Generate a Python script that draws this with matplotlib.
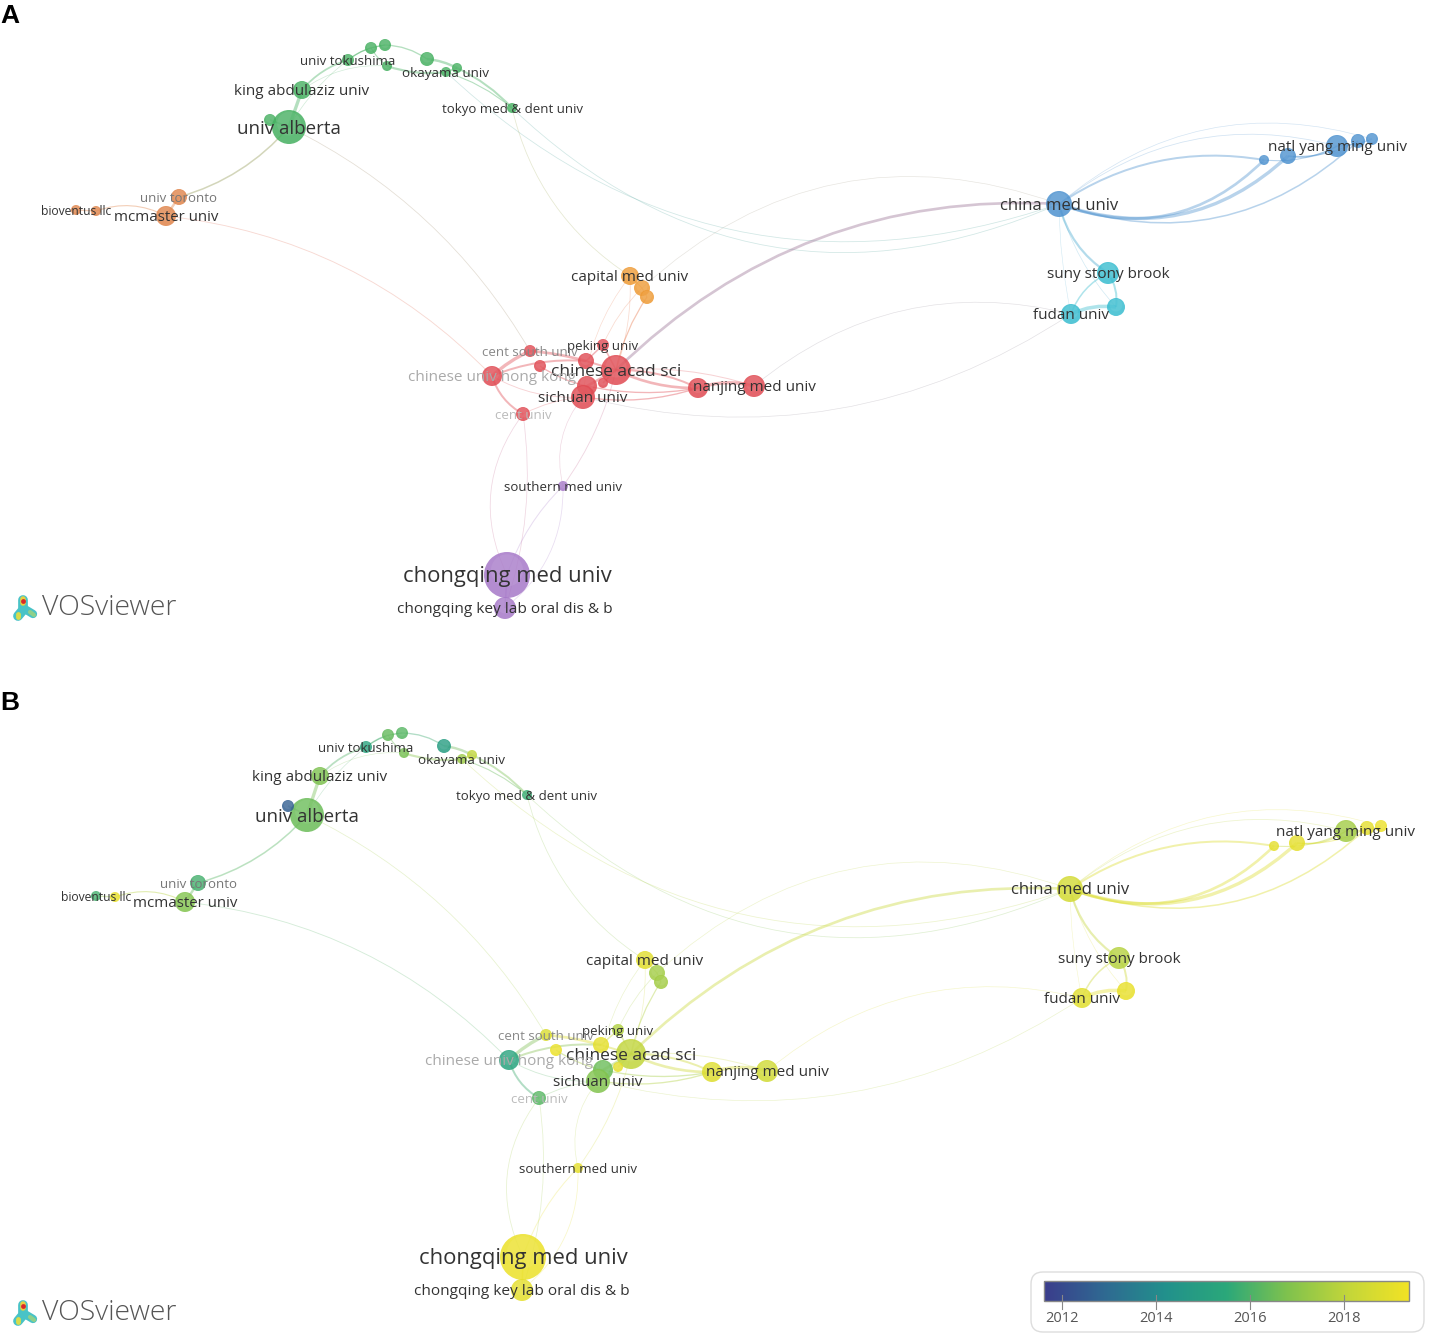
import matplotlib
matplotlib.use("Agg")
import matplotlib.pyplot as plt
import numpy as np
from matplotlib.colors import to_rgb, LinearSegmentedColormap
from matplotlib.patches import Circle, PathPatch, FancyBboxPatch
from matplotlib.path import Path

plt.rcParams['font.family'] = ['Open Sans', 'DejaVu Sans']

# nodes (pixels)
names = ["univ alberta", "king abdulaziz univ", "", "univ tokushima", "", "", "", "", "okayama univ",
         "tokyo med & dent univ", "univ toronto", "mcmaster univ", "bioventus llc", "", "china med univ",
         "natl yang ming univ", "", "", "", "", "suny stony brook", "", "fudan univ", "capital med univ",
         "", "", "peking univ", "cent south univ", "", "chinese acad sci", "", "chinese univ hong kong",
         "", "", "sichuan univ", "", "nanjing med univ", "cent univ", "southern med univ",
         "chongqing med univ", "chongqing key lab oral dis & b", ""]
x_a = [289, 302, 270, 348, 371, 385, 387, 427, 446, 512, 179, 166, 76, 96, 1059, 1337, 1264, 1288, 1358, 1372,
       1108, 1116, 1071, 630, 642, 647, 603, 530, 540, 616, 586, 492, 587, 603, 583, 698, 754, 523, 563, 507, 505, 457]
y_a = [127, 90, 120, 60, 48, 45, 66, 59, 72, 108, 197, 216, 210, 211, 204, 146, 160, 156, 141, 139,
       273, 307, 314, 276, 288, 297, 345, 351, 366, 370, 361, 376, 386, 383, 397, 388, 386, 414, 486, 575, 608, 68]
x_b = [307, 320, 288, 366, 388, 402, 404, 444, 462, 527, 198, 185, 96, 115, 1070, 1346, 1274, 1297, 1367, 1381,
       1119, 1126, 1082, 645, 657, 661, 618, 546, 556, 631, 601, 509, 603, 618, 598, 712, 767, 539, 578, 523, 522, 472]
y_b = [815, 776, 806, 747, 735, 733, 753, 746, 759, 795, 883, 902, 896, 897, 889, 831, 846, 843, 828, 826,
       958, 991, 998, 960, 973, 982, 1030, 1035, 1050, 1054, 1045, 1060, 1070, 1067, 1081, 1072, 1071, 1098, 1168, 1257, 1290, 755]
radius = [17, 9, 6, 6, 6, 6, 5, 7, 5, 5, 8, 10, 5, 5, 13, 11, 5, 8, 7, 6,
          11, 9, 10, 9, 8, 7, 6, 6, 6, 15, 8, 10, 10, 5, 12, 10, 11, 7, 5, 23, 11, 5]
cluster = [0, 0, 0, 0, 0, 0, 0, 0, 0, 0, 1, 1, 1, 1, 2, 2, 2, 2, 2, 2,
           3, 3, 3, 4, 4, 4, 5, 5, 5, 5, 5, 5, 5, 5, 5, 5, 5, 5, 6, 6, 6, 0]
year = [2016.6, 2016.9, 2012.6, 2015.3, 2016.5, 2016.3, 2016.8, 2015.0, 2017.5, 2015.8, 2016.0, 2017.0, 2016.0, 2019.3,
        2018.7, 2017.6, 2019.2, 2019.2, 2019.2, 2019.4, 2018.0, 2019.3, 2019.1, 2019.1, 2017.6, 2017.6,
        2017.9, 2018.9, 2019.4, 2018.2, 2019.2, 2015.3, 2016.6, 2019.2, 2017.0, 2019.0, 2018.6, 2016.3, 2019.2, 2019.4, 2019.2, 2018.2]
label_size = [13.5, 11, 0, 9.5, 0, 0, 0, 0, 9.7, 9.5, 9.5, 10.8, 8.7, 0, 12, 11, 0, 0, 0, 0,
              11, 0, 11, 11, 0, 0, 9.5, 9.5, 0, 12.5, 0, 11, 0, 0, 11, 0, 11, 9.5, 9.5, 15.8, 11.1, 0]
label_color = ["#333333"] * 42
label_color[10] = "#777777"
label_color[27] = "#888888"
label_color[31] = "#aaaaaa"
label_color[37] = "#bbbbbb"

cluster_colors = ["#45b060", "#e0844a", "#4e92cf", "#38bccf", "#ee9a35", "#e04a52", "#a678c8"]

# links: from, to, bend, width
edges = [(0, 1, 0.0, 3.0), (0, 2, 0.0, 1.5), (1, 3, -0.15, 1.6), (3, 4, -0.1, 1.2), (3, 5, -0.15, 1.0), (4, 5, 0, 1.0),
         (5, 7, -0.15, 1.2), (4, 6, 0.1, 1.0), (6, 8, 0.12, 2.0), (7, 41, -0.1, 2.2), (8, 41, 0, 1.5), (41, 9, -0.1, 1.8),
         (8, 9, -0.1, 1.0), (1, 6, -0.18, 0.6), (0, 3, -0.1, 0.6), (0, 10, -0.15, 1.4), (10, 11, 0, 2.2), (11, 13, 0.22, 1.0),
         (12, 13, 0, 1.2), (0, 27, -0.15, 0.7), (11, 31, -0.18, 0.8),
         (9, 14, 0.33, 0.7), (8, 14, 0.3, 0.7), (9, 23, 0.2, 0.7), (14, 29, 0.22, 2.4), (14, 24, 0.3, 0.6),
         (14, 15, -0.25, 0.7), (14, 16, -0.2, 1.8), (14, 16, 0.32, 2.4), (14, 17, 0.3, 3.0), (14, 18, 0.3, 1.4), (14, 19, -0.27, 0.6),
         (16, 15, 0.15, 1.0), (17, 15, 0.2, 1.4), (17, 18, 0.15, 1.0), (15, 19, 0.1, 1.2),
         (14, 20, 0.2, 2.0), (14, 21, 0.12, 0.6), (20, 21, -0.2, 1.8), (20, 22, 0.2, 1.4), (21, 22, 0.15, 3.2),
         (22, 36, 0.25, 0.6), (22, 34, -0.22, 0.6), (14, 22, 0.05, 0.5),
         (23, 24, 0, 1.0), (24, 25, 0, 1.0), (23, 29, -0.1, 0.7), (23, 34, 0.15, 0.6), (25, 29, 0.1, 1.1), (24, 26, 0.1, 0.7),
         (26, 29, 0, 1.4), (26, 30, 0, 1.4), (27, 30, -0.05, 2.4), (31, 27, -0.08, 3.0), (31, 30, -0.12, 1.8), (28, 32, 0.1, 1.2),
         (30, 29, 0, 1.8), (29, 32, 0, 2.4), (29, 33, 0, 1.4), (29, 35, -0.12, 1.8), (29, 35, 0.12, 2.4), (35, 36, -0.15, 3.0),
         (29, 36, -0.1, 0.9), (34, 35, 0.12, 1.2), (32, 34, 0, 2.8), (32, 35, 0.1, 1.2), (31, 34, 0.15, 0.8), (31, 37, 0.2, 1.8),
         (37, 34, -0.1, 0.8), (37, 39, 0.3, 0.7), (37, 40, -0.12, 0.7), (34, 38, 0.25, 0.6), (29, 38, -0.1, 0.8),
         (38, 39, 0.12, 0.9), (38, 40, -0.25, 0.7), (39, 40, 0, 1.4)]

year_ticks = [2012, 2014, 2016, 2018]
year_low, year_high = 2011.6, 2019.6

viridis_like = LinearSegmentedColormap.from_list(
    "vos", ["#3b3d8c", "#2f6a92", "#22918c", "#2ba87a", "#7fc24e", "#c3d63a", "#f2e325"])


def year_color(value):
    return viridis_like((value - year_low) / (year_high - year_low))[:3]


def draw_panel(ax, xs, ys, colors):
    # links first so the bubbles sit on top
    for i, j, bend, width in edges:
        p0 = np.array([xs[i], ys[i]], dtype=float)
        p1 = np.array([xs[j], ys[j]], dtype=float)
        d = p1 - p0
        ctrl = (p0 + p1) / 2 + bend * np.array([-d[1], d[0]])
        col = (np.array(to_rgb(colors[i])) + np.array(to_rgb(colors[j]))) / 2
        path = Path([p0, ctrl, p1], [Path.MOVETO, Path.CURVE3, Path.CURVE3])
        # thin links are paler
        link_alpha = 0.25 if width < 1 else 0.4
        ax.add_patch(PathPatch(path, fill=False, edgecolor=col, lw=width * 0.8, alpha=link_alpha, zorder=1))
    for k in range(len(xs)):
        r = radius[k]
        ax.add_patch(Circle((xs[k], ys[k]), r, facecolor=colors[k], edgecolor="none", alpha=0.85, zorder=2))
        # soft light spot, the bubbles look a bit shaded
        ax.add_patch(Circle((xs[k], ys[k] - 0.2 * r), 0.7 * r, facecolor="white", edgecolor="none", alpha=0.07, zorder=2))
    for k in range(len(xs)):
        if names[k]:
            ax.text(xs[k], ys[k] + 1.5, names[k], fontsize=label_size[k], color=label_color[k],
                    ha="center", va="center", zorder=3)


def draw_logo(ax, y):
    ax.plot([23, 23, 18], [y - 7, y + 3, y + 9], color="#49c3c7", lw=7, solid_capstyle="round", zorder=2)
    ax.plot([23, 33], [y + 1, y + 7], color="#49c3c7", lw=6, solid_capstyle="round", zorder=2)
    ax.plot([18, 18], [y + 7, y + 10], color="#d9dc4a", lw=3.5, solid_capstyle="round", zorder=2)
    ax.plot([30, 34], [y + 5, y + 8], color="#8fd08a", lw=3, solid_capstyle="round", zorder=2)
    ax.plot([23, 23], [y - 8, y - 4], color="#e8d040", lw=4, solid_capstyle="round", zorder=2)
    ax.scatter([23], [y - 6], s=12, c="#d8282a", zorder=3, linewidths=0)
    ax.text(42, y + 1, "VOSviewer", fontsize=20.4, fontweight="light", color="#555555", va="center", ha="left")


fig = plt.figure(figsize=(14.3, 13.33), dpi=100)
ax = fig.add_axes([0, 0, 1, 1])

draw_panel(ax, x_a, y_a, [cluster_colors[c] for c in cluster])
draw_panel(ax, x_b, y_b, [year_color(v) for v in year])
draw_logo(ax, 607)
draw_logo(ax, 1312)

ax.text(0, 16, "A", fontsize=19, fontweight="bold", family="Liberation Sans", va="center", color="black")
ax.text(0, 703, "B", fontsize=19, fontweight="bold", family="Liberation Sans", va="center", color="black")

# colour bar box, bottom right
ax.add_patch(FancyBboxPatch((1031, 1272), 393, 60, boxstyle="round,pad=0,rounding_size=12",
                            lw=1, ec="#dddddd", fc="white", zorder=1))
gradient = np.linspace(0, 1, 256).reshape(1, -1)
ax.imshow(gradient, cmap=viridis_like, extent=(1044, 1409, 1301, 1281), aspect="auto", zorder=2)
ax.add_patch(plt.Rectangle((1044, 1281), 365, 20, fill=False, ec="#888888", lw=1, zorder=3))
for yr in year_ticks:
    tick_x = 1062 + (yr - 2012) * (1344 - 1062) / 6
    ax.plot([tick_x, tick_x], [1295, 1309], color="#888888", lw=0.8, zorder=3)
    ax.text(tick_x, 1319, str(yr), fontsize=10.5, color="#555555", ha="center", va="center")

ax.set_xlim(0, 1430)
ax.set_ylim(1333, 0)
ax.axis("off")

fig.savefig("out.png", dpi=100)
